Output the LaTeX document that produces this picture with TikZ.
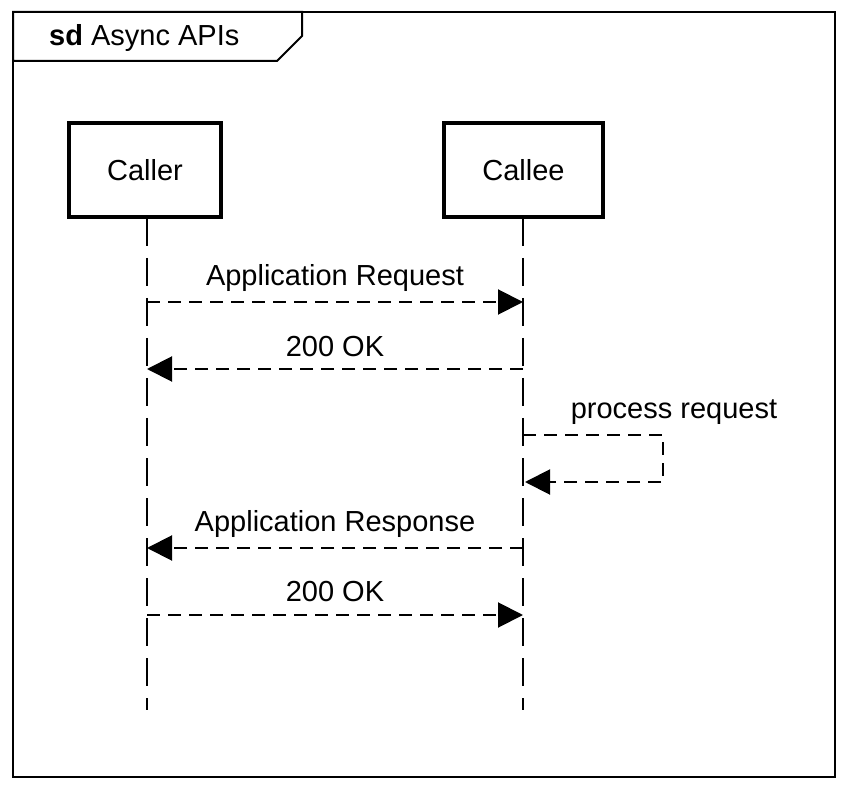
\documentclass[tikz,border=0pt]{standalone}
\usepackage{fontspec}
\setmainfont{Liberation Sans}
\usetikzlibrary{arrows.meta}
\begin{document}
\begin{tikzpicture}[x=1pt,y=-1pt,
  every node/.style={font=\fontsize{29}{34}\selectfont, inner sep=0pt},
  actor/.style={draw, line width=4pt, minimum height=94pt},
  lifeline/.style={line width=2pt, dash pattern=on 28pt off 12pt},
  msg/.style={line width=2pt, dash pattern=on 13pt off 8pt, -{Triangle[length=25pt,width=25pt]}},
  lbl/.style={anchor=center}]
\useasboundingbox (0,0) rectangle (852,794);
% frame
\draw[line width=2pt] (13,12) rectangle (835,777);
\draw[line width=2pt, fill=white] (13,12) -- (302,12) -- (302,36) -- (277,61) -- (13,61) -- cycle;
\node[anchor=west] (title) at (49,38) {\textbf{sd} Async APIs};
% actors
\node[actor, minimum width=152pt] (caller) at (145,170) {Caller};
\node[actor, minimum width=159pt] (callee) at (523.5,170) {Callee};
\coordinate (callerEnd) at (147,710);
\coordinate (calleeEnd) at (523,710);
\draw[lifeline] (147,218) -- (callerEnd);
\draw[lifeline] (523,218) -- (calleeEnd);
% message points
\coordinate (a1) at (147,302); \coordinate (b1) at (523,302);
\coordinate (a2) at (147,369); \coordinate (b2) at (523,369);
\coordinate (s1) at (523,435); \coordinate (s2) at (663,435);
\coordinate (s3) at (663,482); \coordinate (s4) at (525,482);
\coordinate (a4) at (147,548); \coordinate (b4) at (523,548);
\coordinate (a5) at (147,615); \coordinate (b5) at (523,615);
% messages
\draw[msg] (a1) -- (b1);
\node[lbl] (l1) at (335,278) {Application Request};
\draw[msg] (b2) -- (a2);
\node[lbl] (l2) at (335,347) {200 OK};
\draw[msg] (s1) -- (s2) -- (s3) -- (s4);
\node[lbl] (l3) at (674,412) {process request};
\draw[msg] (b4) -- (a4);
\node[lbl] (l4) at (335,524) {Application Response};
\draw[msg] (a5) -- (b5);
\node[lbl] (l5) at (335,592) {200 OK};
\end{tikzpicture}
\end{document}
